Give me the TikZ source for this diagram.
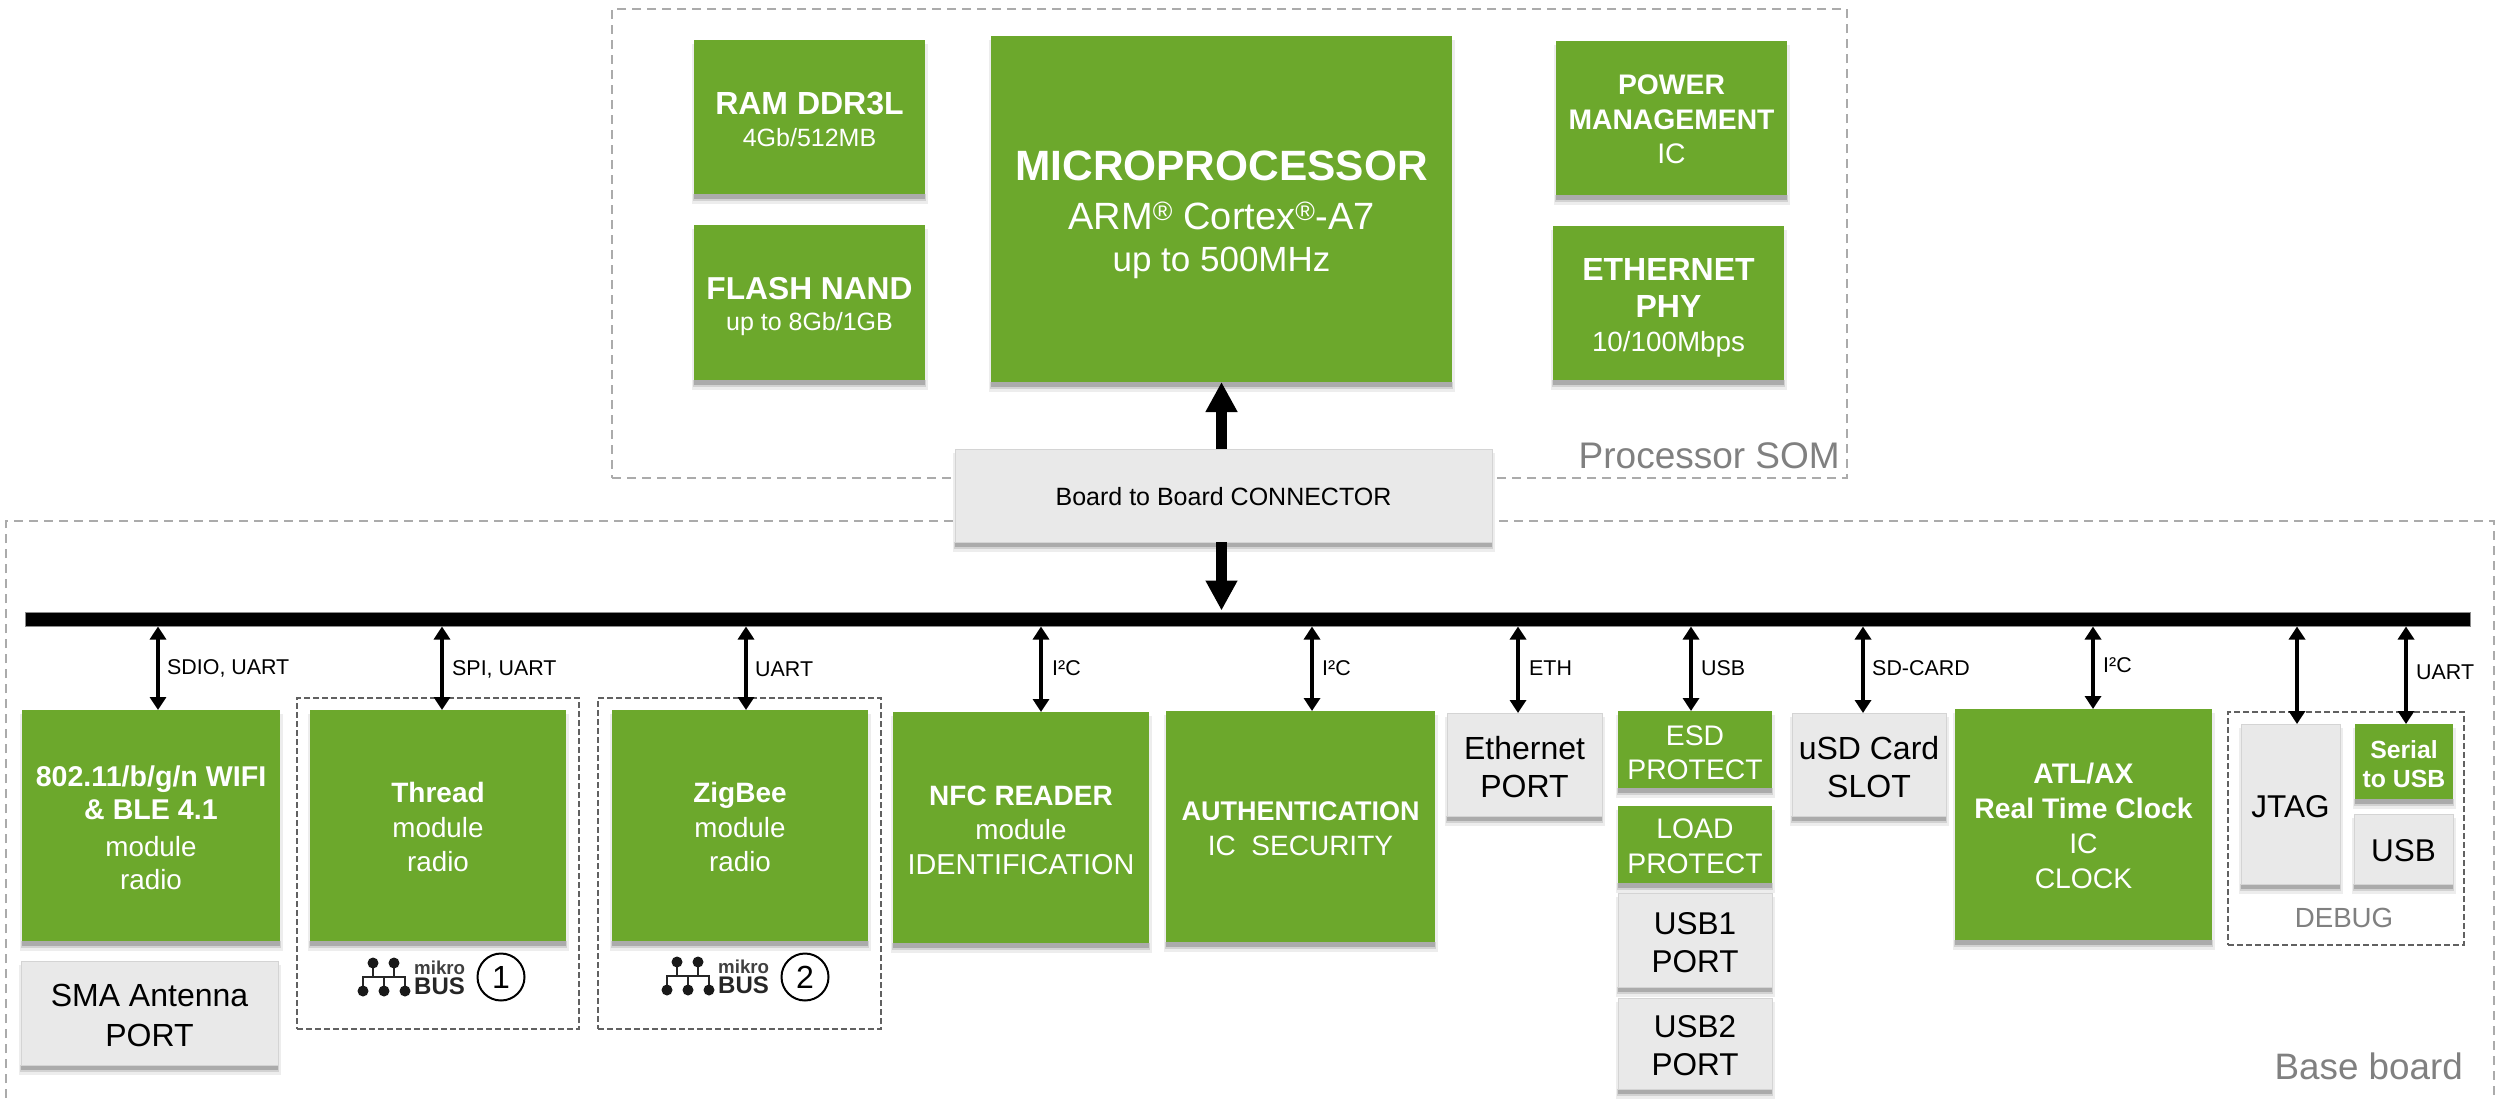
\documentclass[tikz,border=0pt]{standalone}
\usepackage{fontspec}
\setmainfont{Liberation Sans}
\usetikzlibrary{arrows.meta}
\definecolor{grn}{HTML}{6CA82C}
\definecolor{lgt}{HTML}{E9E9E9}
\definecolor{lgtedge}{HTML}{D4D4D4}
\definecolor{shd}{HTML}{ABABAB}
\definecolor{midshd}{HTML}{D2D2D2}
\definecolor{halo}{HTML}{EDEDED}
\definecolor{cap}{HTML}{808080}
\newcommand{\BL}[3]{{\fontsize{#1}{#2}\selectfont\bfseries\spaceskip=\fontdimen2\font\xspaceskip=\fontdimen2\font #3\par}}
\newcommand{\RL}[3]{{\fontsize{#1}{#2}\selectfont\spaceskip=\fontdimen2\font\xspaceskip=\fontdimen2\font #3\par}}
\newcommand{\dn}[1]{\rule{0pt}{\dimexpr #1pt+0.72em\relax}}
\tikzset{
  x=1pt,y=-1pt,
  block/.style={rectangle,inner sep=0pt,outer sep=0pt,align=center},
  greenbox/.style={block,fill=grn,text=white},
  greybox/.style={block,fill=lgt,draw=lgtedge,line width=1pt,text=black},
  outerframe/.style={draw=shd,line width=1.6pt,dash pattern=on 9pt off 6pt},
  innerframe/.style={draw=black!62,line width=1.8pt,dash pattern=on 6pt off 3pt,rectangle,inner sep=0pt,outer sep=0pt},
  mainarrow/.style={line width=11pt,-{Triangle[length=30pt,width=30pt]}},
  busarrow/.style={line width=4.5pt,{Triangle[length=13pt,width=16pt]}-{Triangle[length=13pt,width=16pt]}},
  buslabel/.style={font=\fontsize{21.4}{24}\selectfont,anchor=west,inner sep=0pt,text=black},
  captxt/.style={text=cap,inner sep=0pt},
  numcircle/.style={circle,draw=black,line width=2pt,minimum size=47pt,inner sep=0pt,font=\fontsize{32}{36}\selectfont},
  logoline/.style={draw=black!85,line width=2.8pt},
  logodot/.style={fill=black!90},
}
% name, style, x1, y1, x2, y2, text
\newcommand{\blk}[7]{%
  \fill[halo] (#3-2,#4+4) rectangle (#5+3,#6+10);
  \fill[midshd] (#3-1,#6) rectangle (#5+1,#6+7);
  \fill[shd] (#3,#6) rectangle (#5,#6+5);
  \node[#2,minimum width={#5-#3},text width={#5-#3},minimum height={#6-#4}] (#1) at ({(#3+#5)/2},{(#4+#6)/2}) {#7};
}
\newcommand{\frm}[6]{%
  \node[#2,minimum width={#5-#3},minimum height={#6-#4}] (#1) at ({(#3+#5)/2},{(#4+#6)/2}) {};
}
% x, target node, label x, label y, label
\newcommand{\conn}[5]{%
  \coordinate (cx#1) at (#1,620);
  \draw[busarrow] (bus.south -| cx#1) -- (#2.north -| cx#1);
  \node[buslabel] (lb#1) at (#3,#4) {#5};
}
\newcommand{\connx}[2]{%
  \coordinate (cx#1) at (#1,620);
  \draw[busarrow] (bus.south -| cx#1) -- (#2.north -| cx#1);
}
\newcommand{\mikrologo}[3]{%
  \begin{scope}[shift={(#2,#3)}]
    \draw[logoline] (15,5) -- (15,19) (36,5) -- (36,19) (5,33) -- (5,19) -- (47,19) -- (47,33) (26,19) -- (26,33);
    \foreach \px/\py in {15/5,36/5,5/33,26/33,47/33}{\fill[logodot] (\px,\py) circle (5.5);}
    \node[inner sep=0pt,anchor=west,text=black!75,font=\fontsize{18.7}{20}\selectfont\bfseries] (#1m) at (56,10) {mikro};
    \node[inner sep=0pt,anchor=west,text=black!85,font=\fontsize{24}{26}\selectfont\bfseries] (#1b) at (56,28) {BUS};
  \end{scope}
}
\begin{document}
\begin{tikzpicture}
\useasboundingbox (0,0) rectangle (2496,1098);
\fill[white] (0,0) rectangle (2496,1098);
% frames
\frm{som}{outerframe,rectangle,inner sep=0pt,outer sep=0pt}{612}{9}{1847}{478}
\draw[outerframe] (6,1098) -- (6,521) -- (2494,521) -- (2494,1098);
\frm{mbf1}{innerframe}{297}{698}{579}{1029}
\frm{mbf2}{innerframe}{598}{698}{881}{1029}
\frm{dbg}{innerframe}{2228}{712}{2464}{945}
% SOM blocks
\blk{ram}{greenbox}{694}{40}{925}{194}{\BL{32}{36}{\dn{5}RAM DDR3L}\RL{25}{32}{4Gb/512MB}}
\blk{flash}{greenbox}{694}{225}{925}{380}{\BL{31.7}{36}{\dn{7}FLASH NAND}\RL{25}{31}{up to 8Gb/1GB}}
\blk{micro}{greenbox}{991}{36}{1452}{382}{\BL{42.4}{48}{\dn{11}MICROPROCESSOR}\RL{38}{49}{ARM\textsuperscript{®} Cortex\textsuperscript{®}-A7}\RL{35}{42}{up to 500MHz}}
\blk{power}{greenbox}{1556}{41}{1787}{195}{\BL{28.3}{35}{\dn{2}POWER}\BL{28.3}{35}{MANAGEMENT}\RL{28.3}{34}{IC}}
\blk{phy}{greenbox}{1553}{226}{1784}{380}{\BL{32}{37}{\dn{9}ETHERNET}\BL{32}{37}{PHY}\RL{27.8}{34}{10/100Mbps}}
\blk{board}{greybox}{955}{449}{1492}{542}{\RL{25}{30}{\dn{2}Board to Board CONNECTOR}}
% bus
\node[rectangle,fill=black,draw=black!45,line width=.8pt,inner sep=0pt,outer sep=0pt,minimum width=2445pt,minimum height=14pt] (bus) at (1247.5,619.5) {};
% base blocks
\blk{wifi}{greenbox}{22}{710}{280}{941}{\BL{28.6}{33}{\dn{4}802.11/b/g/n WIFI}\BL{28.6}{33}{\& BLE 4.1}\RL{27.8}{37}{module}\RL{27.8}{33}{radio}}
\blk{sma}{greybox}{21}{961}{278}{1065}{\RL{32}{40}{\dn{5}SMA Antenna}\RL{32}{40}{PORT}}
\blk{thread}{greenbox}{310}{710}{566}{941}{\BL{28}{34}{\dn{3}Thread}\RL{27.8}{35.5}{module}\RL{27.8}{33.5}{radio}}
\blk{zigbee}{greenbox}{612}{710}{868}{941}{\BL{28}{34}{\dn{3}ZigBee}\RL{27.8}{35.5}{module}\RL{27.8}{33.5}{radio}}
\blk{nfc}{greenbox}{893}{712}{1149}{943}{\BL{28}{34}{\dn{6}NFC READER}\RL{27.8}{34}{module}\RL{28.8}{35}{IDENTIFICATION}}
\blk{auth}{greenbox}{1166}{711}{1435}{942}{\BL{27}{35}{\dn{3}AUTHENTICATION}\RL{28}{35}{IC\ \ SECURITY}}
\blk{ethp}{greybox}{1447}{713}{1602}{816}{\RL{32}{38}{\dn{5}Ethernet}\RL{32}{38}{PORT}}
\blk{esd}{greenbox}{1618}{711}{1772}{788}{\RL{28.3}{33.5}{\dn{6}ESD}\RL{28.3}{33.5}{PROTECT}}
\blk{load}{greenbox}{1618}{806}{1772}{883}{\RL{28.3}{35}{\dn{3}LOAD}\RL{28.3}{35}{PROTECT}}
\blk{usbone}{greybox}{1618}{893}{1772}{987}{\RL{31.5}{38}{\dn{4}USB1}\RL{31.5}{38}{PORT}}
\blk{usbtwo}{greybox}{1618}{998}{1772}{1089}{\RL{31.5}{38}{\dn{4}USB2}\RL{31.5}{38}{PORT}}
\blk{usd}{greybox}{1792}{713}{1946}{816}{\RL{32}{38}{\dn{5}uSD Card}\RL{32}{38}{SLOT}}
\blk{atl}{greenbox}{1955}{709}{2212}{940}{\BL{28.3}{35}{\dn{3}ATL/AX}\BL{28.3}{35}{Real Time Clock}\RL{28.3}{35}{IC}\RL{28.3}{35}{CLOCK}}
\blk{jtag}{greybox}{2241}{724}{2340}{884}{\RL{31.5}{36}{\dn{5}JTAG}}
\blk{serial}{greenbox}{2355}{724}{2453}{799}{\BL{24.8}{29}{\dn{5}Serial}\BL{24.8}{29}{to USB}}
\blk{usbd}{greybox}{2354}{814}{2453}{884}{\RL{31.5}{36}{\dn{3}USB}}
% captions
\node[captxt,anchor=east,font=\fontsize{37}{40}\selectfont] (somcap) at (1840,456) {Processor SOM};
\node[captxt,anchor=east,font=\fontsize{36.8}{40}\selectfont] (basecap) at (2463,1066) {Base board};
\node[captxt,font=\fontsize{27.7}{30}\selectfont] (dbgcap) at (2344,918) {DEBUG};
% mikroBUS
\mikrologo{la}{358}{958}
\node[numcircle] (c1) at (501,977) {1};
\mikrologo{lb}{662}{957}
\node[numcircle] (c2) at (805,977) {2};
% connectors
\draw[mainarrow] (board.north -| micro.south) -- (micro.south);
\draw[mainarrow,shorten >=2pt] (board.south -| micro.south) -- (bus.north -| micro.south);
\conn{158}{wifi}{167}{668}{SDIO, UART}
\conn{442}{thread}{452}{669}{SPI, UART}
\conn{746}{zigbee}{755}{669}{UART}
\conn{1041}{nfc}{1052}{668}{I²C}
\conn{1312}{auth}{1322}{668}{I²C}
\conn{1518}{ethp}{1529}{668}{ETH}
\conn{1691}{esd}{1701}{668}{USB}
\conn{1863}{usd}{1872}{668}{SD-CARD}
\conn{2093}{atl}{2103}{665}{I²C}
\connx{2297}{jtag}
\conn{2406}{serial}{2416}{672}{UART}
\end{tikzpicture}
\end{document}
